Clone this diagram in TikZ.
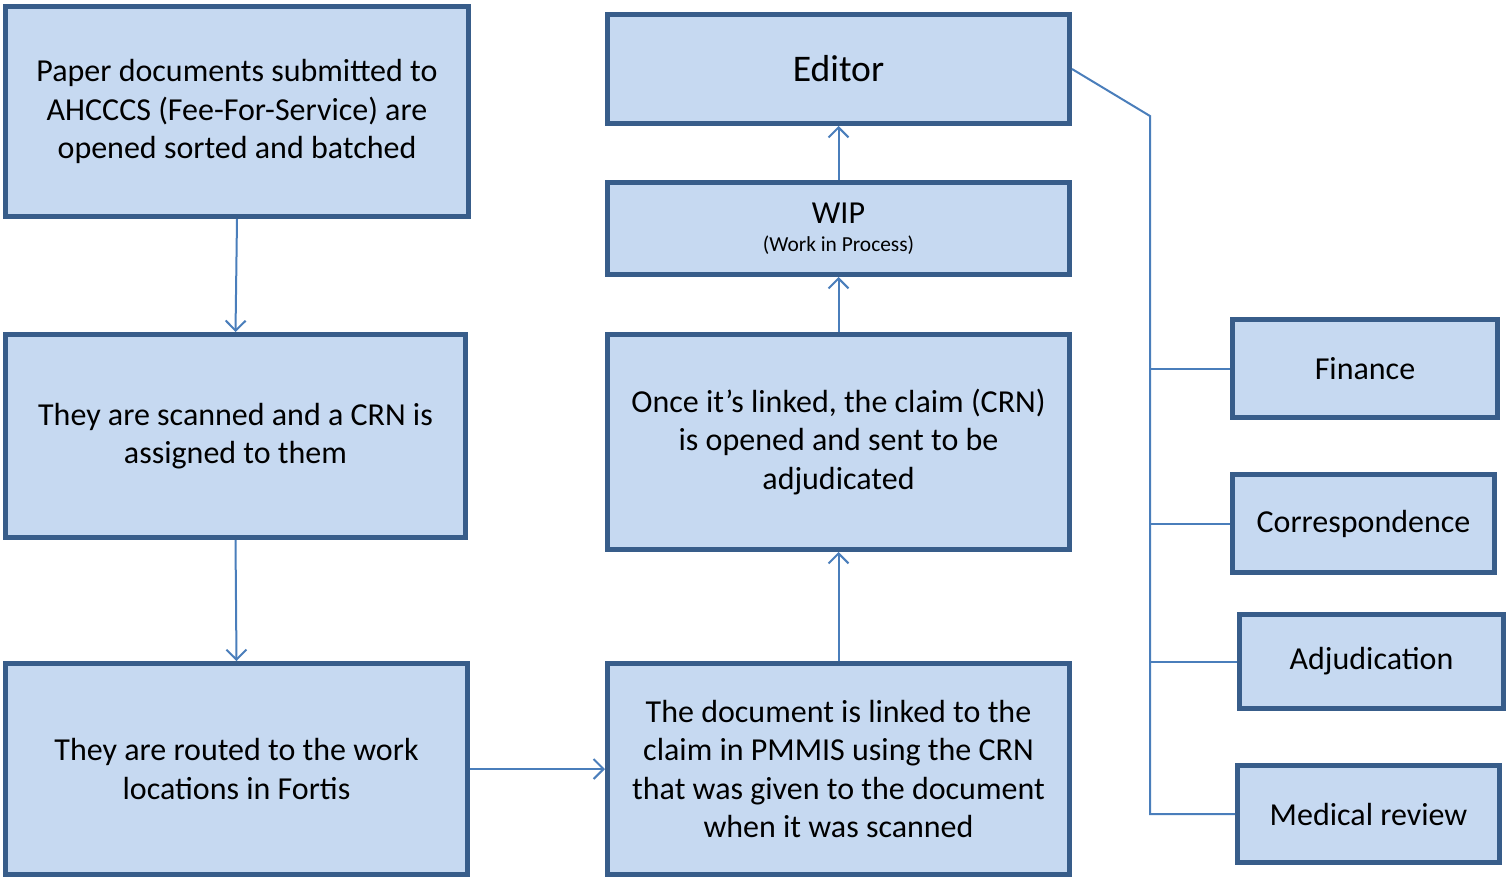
\documentclass[tikz,border=0pt]{standalone}
\usepackage{fontspec}
\setmainfont{Carlito}
\usetikzlibrary{arrows.meta}
\definecolor{boxfill}{HTML}{C6D9F1}
\definecolor{boxline}{HTML}{385D8A}
\definecolor{conn}{HTML}{4A7EBB}
\tikzset{
  box/.style={draw=boxline, fill=boxfill, line width=2.5pt, rectangle, inner sep=0pt, align=center,
    font=\fontsize{16pt}{19.2pt}\selectfont},
  link/.style={draw=conn, line width=1pt},
  arr/.style={link, -{Straight Barb[length=5pt,width=10pt,line width=1pt]}},
}
\begin{document}
\begin{tikzpicture}[x=0.5pt,y=-0.5pt]
\useasboundingbox (0,0) rectangle (1509,879);
\node[box, minimum width=231.5pt, minimum height=105pt] (A) at (237,111.5)
  {Paper documents submitted to\\AHCCCS (Fee-For-Service) are\\opened sorted and batched};
\node[box, minimum width=230pt, minimum height=101.5pt] (B) at (235.5,436)
  {They are scanned and a CRN is\\assigned to them};
\node[box, minimum width=231pt, minimum height=105.5pt] (C) at (236.5,769)
  {They are routed to the work\\locations in Fortis};
\node[box, minimum width=231pt, minimum height=105.5pt] (D) at (838.5,769)
  {The document is linked to the\\claim in PMMIS using the CRN\\that was given to the document\\when it was scanned};
\node[box, minimum width=231pt, minimum height=107.5pt] (E) at (838.5,442)
  {Once it’s linked, the claim (CRN)\\is opened and sent to be\\adjudicated};
\node[box, minimum width=231pt, minimum height=46pt] (F) at (838.5,228.5)
  {WIP\\[-5pt]{\fontsize{10.7pt}{12pt}\selectfont (Work in Process)}};
\node[box, minimum width=231pt, minimum height=54.5pt, font=\fontsize{18.8pt}{22pt}\selectfont] (G) at (838.5,69)
  {Editor};
\node[box, minimum width=132.5pt, minimum height=49pt] (Fin) at (1365,368.5) {Finance};
\node[box, minimum width=131pt, minimum height=49pt] (Cor) at (1363.5,523.5) {Correspondence};
\node[box, minimum width=132pt, minimum height=47pt] (Adj) at (1371.5,661.5) {Adjudication};
\node[box, minimum width=131pt, minimum height=48.5pt] (Med) at (1368.5,814) {Medical review};

\draw[arr] (A.south) -- (B.north);
\draw[arr] (B.south) -- (C.north);
\draw[arr] (C.east) -- (D.west);
\draw[arr] (D.north) -- (E.south);
\draw[arr] (E.north) -- (F.south);
\draw[arr] (F.north) -- (G.south);

\coordinate (k) at (1150,116);
\draw[link, line join=miter] (G.east) -- (k) -- (k |- Med.west) -- (Med.west);
\draw[link] (k |- Fin.west) -- (Fin.west);
\draw[link] (k |- Cor.west) -- (Cor.west);
\draw[link] (k |- Adj.west) -- (Adj.west);
\end{tikzpicture}
\end{document}
